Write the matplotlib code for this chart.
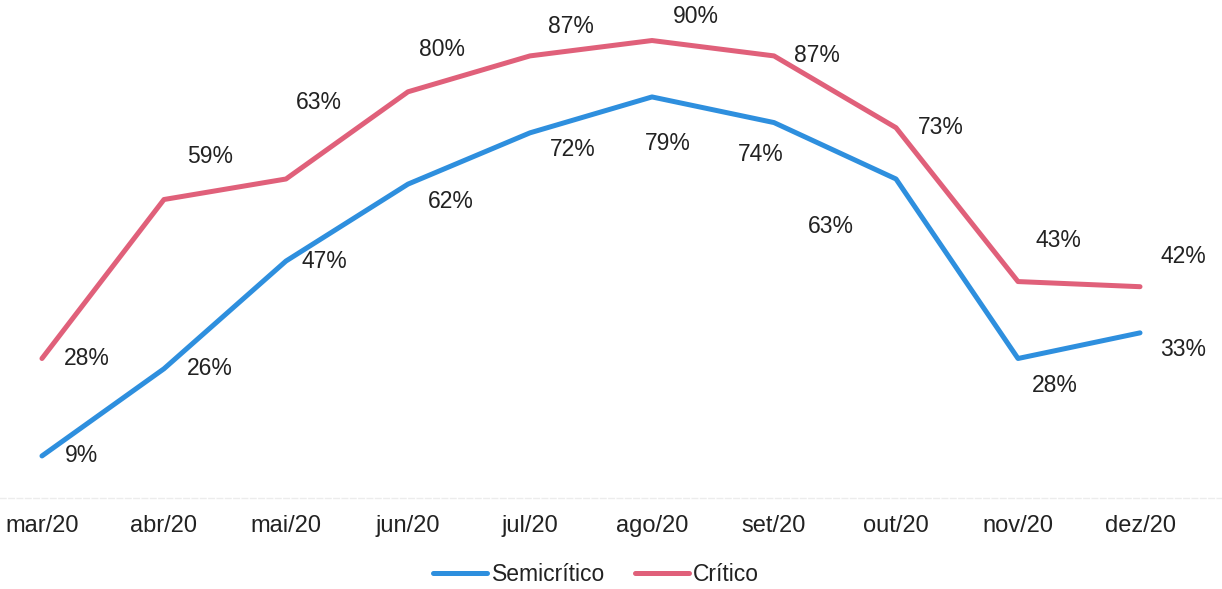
import matplotlib
matplotlib.use('Agg')
import matplotlib.pyplot as plt
import numpy as np

meses = ['mar/20', 'abr/20', 'mai/20', 'jun/20', 'jul/20',
         'ago/20', 'set/20', 'out/20', 'nov/20', 'dez/20']
semicritico = [9, 26, 47, 62, 72, 79, 74, 63, 28, 33]
critico = [28, 59, 63, 80, 87, 90, 87, 73, 43, 42]

# deslocamento dos rótulos em pixels (dx, dy) a partir de cada ponto
off_semi = [(40, 0), (46, 0), (38, 0), (43, -17), (43, -17),
            (16, -47), (-13, -32), (-65, -48), (37, -27), (43, -17)]
off_crit = [(45, 0), (46, 43), (33, 76), (34, 42), (41, 29),
            (44, 24), (43, 0), (45, 0), (40, 41), (43, 30)]

plt.rcParams['font.family'] = ['Liberation Sans', 'DejaVu Sans']
plt.rcParams['font.size'] = 16.5

azul = '#2E8FDE'
rosa = '#E0607A'
txt = '#222222'

fig = plt.figure(figsize=(12.22, 5.89), dpi=100)
ax = fig.add_axes([0, 0.1545, 1, 0.8455])
x = np.arange(len(meses))

ax.plot(x, semicritico, color=azul, lw=3.6, label='Semicrítico', solid_capstyle='round')
ax.plot(x, critico, color=rosa, lw=3.6, label='Crítico', solid_capstyle='round')

for i in range(len(x)):
    ax.annotate('{}%'.format(semicritico[i]), (x[i], semicritico[i]), xytext=off_semi[i],
                textcoords='offset pixels', ha='center', va='center', color=txt)
    ax.annotate('{}%'.format(critico[i]), (x[i], critico[i]), xytext=off_crit[i],
                textcoords='offset pixels', ha='center', va='center', color=txt)

ax.set_xlim(-0.344, 9.672)
ax.set_ylim(0.8, 97.9)
for s in ['top', 'right', 'left']:
    ax.spines[s].set_visible(False)
ax.spines['bottom'].set_color('#ececec')
ax.spines['bottom'].set_linewidth(1)
ax.spines['bottom'].set_linestyle((0, (4, 2)))
ax.set_yticks([])
ax.set_xticks(x)
ax.set_xticklabels(meses, color=txt, fontsize=17)
ax.tick_params(axis='x', length=0, pad=12)

fig.legend(loc='lower center', bbox_to_anchor=(0.488, -0.03), ncol=2, frameon=False,
           handlelength=2.35, handletextpad=0.2, columnspacing=1.3, labelcolor=txt)

fig.savefig('out.png', dpi=100, facecolor='white')
